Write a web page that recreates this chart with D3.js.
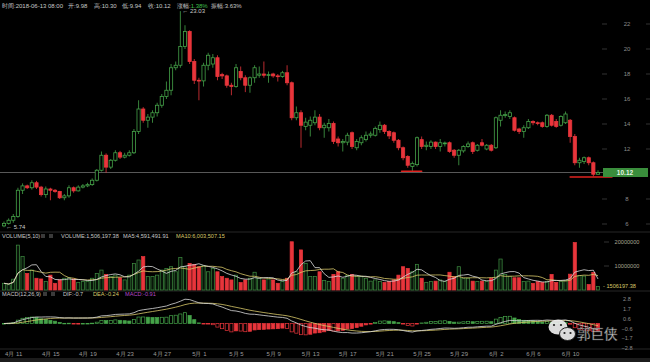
<!DOCTYPE html>
<html>
<head>
<meta charset="utf-8">
<script src="https://cdn.jsdelivr.net/npm/d3@7"></script>
<style>
  body { margin: 0; background: #000; }
  svg { display: block; font-family: "Liberation Sans", Arial, sans-serif; }
</style>
</head>
<body>
<div id="chart"></div>
<script>
// 12h candles, 2018-04-10 08:00 .. 2018-06-13 08:00
const START = '2018-04-10 08:00';
const END = '2018-06-13 08:00';

const open = [
  5.85, 6.05, 6.30, 6.60, 8.70, 9.05, 8.90, 9.30, 8.95, 8.35,
  8.80, 8.70, 8.60, 8.10, 8.25, 8.90, 8.65, 8.95, 9.05, 9.15,
  9.50, 10.30, 11.50, 10.55, 11.10, 11.70, 11.35, 11.50, 11.70, 13.40,
  15.20, 14.30, 14.55, 14.90, 15.50, 16.20, 16.70, 18.50, 18.70, 20.20,
  21.40, 19.00, 17.50, 17.45, 18.70, 18.80, 19.30, 17.95, 17.85, 17.10,
  17.00, 18.20, 17.70, 17.10, 17.70, 17.90, 18.00, 17.90, 18.00, 17.85,
  17.80, 18.10, 17.30, 14.50, 14.90, 13.80, 13.90, 14.10, 14.55, 13.70,
  13.70, 14.05, 12.80, 12.50, 12.55, 13.30, 12.10, 12.50, 12.75, 13.10,
  13.10, 13.55, 13.90, 13.40, 13.30, 12.70, 12.10, 11.40, 10.60, 10.75,
  12.75, 12.20, 12.20, 12.55, 12.20, 12.45, 12.50, 11.90, 11.50, 11.85,
  12.20, 12.50, 11.90, 12.50, 12.00, 12.30, 12.10, 14.30, 14.70, 14.60,
  14.50, 13.60, 13.40, 13.70, 14.20, 14.10, 14.10, 13.80, 14.70, 14.20,
  13.90, 14.10, 14.30, 13.00, 10.90, 11.00, 11.30, 10.90, 9.98
];
const high = [
  6.20, 6.45, 6.80, 8.90, 9.25, 9.15, 9.50, 9.45, 9.05, 9.00,
  8.90, 8.80, 8.65, 8.40, 9.10, 9.00, 9.10, 9.20, 9.30, 9.65,
  10.40, 11.80, 11.65, 11.20, 11.90, 11.85, 11.70, 11.90, 13.60, 15.90,
  15.35, 14.80, 15.10, 15.70, 16.40, 17.40, 18.80, 19.00, 23.03, 21.90,
  21.50, 19.20, 17.70, 18.90, 19.70, 19.60, 19.50, 18.10, 17.95, 17.30,
  18.80, 18.60, 17.90, 17.80, 18.70, 18.60, 19.00, 18.20, 18.10, 18.00,
  18.25, 18.70, 17.40, 15.40, 15.10, 14.50, 14.60, 15.10, 14.80, 14.10,
  14.40, 14.20, 13.00, 12.80, 13.30, 13.40, 12.80, 13.10, 13.40, 13.40,
  13.80, 14.20, 14.00, 13.50, 13.40, 12.80, 12.20, 11.50, 11.00, 13.00,
  13.00, 12.60, 12.70, 12.60, 12.80, 12.60, 12.60, 12.00, 12.00, 12.30,
  12.60, 12.60, 12.40, 12.80, 12.40, 12.40, 14.60, 15.10, 15.00, 15.10,
  14.60, 13.70, 13.90, 14.40, 14.30, 14.20, 14.20, 14.80, 14.80, 14.40,
  14.70, 15.00, 14.40, 13.20, 11.30, 11.40, 11.40, 11.00, 10.30
];
const low = [
  5.74, 5.95, 6.10, 6.50, 8.40, 8.80, 8.75, 8.80, 8.20, 8.10,
  7.90, 8.50, 8.00, 7.90, 8.10, 8.50, 8.60, 8.85, 8.95, 9.05,
  9.40, 10.20, 10.10, 10.40, 11.00, 11.20, 11.25, 11.40, 11.60, 13.20,
  14.10, 13.70, 14.10, 14.60, 15.30, 16.00, 16.30, 18.30, 18.50, 20.00,
  18.80, 17.20, 15.90, 17.00, 18.30, 18.50, 17.50, 17.60, 16.90, 16.30,
  16.90, 17.50, 16.55, 16.50, 17.30, 17.70, 17.70, 17.30, 17.70, 17.40,
  17.70, 17.10, 14.30, 14.30, 12.10, 13.50, 13.00, 13.90, 13.50, 12.90,
  13.40, 12.40, 12.20, 11.80, 12.30, 12.00, 11.90, 12.30, 12.60, 12.90,
  13.00, 13.30, 13.20, 12.80, 12.50, 11.90, 11.10, 10.50, 10.20, 10.60,
  12.00, 11.90, 12.00, 12.00, 11.80, 12.20, 11.70, 11.30, 10.70, 11.70,
  12.10, 11.60, 11.80, 12.20, 11.90, 11.80, 12.00, 13.80, 14.50, 14.40,
  13.40, 13.20, 12.90, 13.60, 13.90, 13.90, 13.70, 13.70, 13.80, 13.70,
  13.80, 14.00, 12.50, 10.70, 10.50, 10.80, 10.70, 9.80, 9.94
];
const close = [
  6.05, 6.30, 6.60, 8.70, 9.05, 8.90, 9.30, 8.95, 8.35, 8.80,
  8.70, 8.60, 8.10, 8.25, 8.90, 8.65, 8.95, 9.05, 9.15, 9.50,
  10.30, 11.50, 10.55, 11.10, 11.70, 11.35, 11.50, 11.70, 13.40, 15.20,
  14.30, 14.55, 14.90, 15.50, 16.20, 16.70, 18.50, 18.70, 20.20, 21.40,
  19.00, 17.50, 17.45, 18.70, 19.50, 19.30, 17.80, 17.85, 17.10, 17.00,
  18.50, 17.70, 17.10, 17.70, 18.50, 18.00, 17.90, 17.95, 17.85, 17.80,
  18.10, 17.30, 14.50, 14.90, 13.90, 14.15, 14.30, 14.55, 13.70, 13.90,
  14.05, 12.60, 12.50, 12.60, 13.10, 12.20, 12.60, 12.90, 13.10, 13.20,
  13.65, 13.90, 13.40, 13.05, 12.70, 12.10, 11.30, 10.70, 10.85, 12.90,
  12.20, 12.30, 12.55, 12.20, 12.50, 12.48, 11.80, 11.50, 11.90, 12.20,
  12.40, 11.80, 12.30, 12.30, 12.30, 11.90, 14.50, 14.70, 14.75, 14.90,
  13.50, 13.40, 13.70, 14.20, 14.10, 14.05, 13.80, 14.70, 13.90, 13.80,
  14.60, 14.80, 13.00, 10.90, 11.10, 11.30, 10.90, 9.98, 10.12
];
// volume in millions
const volumeM = [
  2.8, 2.2, 4.5, 18.7, 13.9, 6.9, 8.3, 4.9, 4.6, 3.5,
  6.2, 2.8, 4.2, 4.9, 5.1, 4.6, 3.2, 3.5, 3.5, 4.9,
  6.9, 8.3, 6.5, 5.6, 6.2, 5.1, 4.2, 6.2, 11.1, 12.5,
  13.9, 5.6, 5.6, 6.2, 8.3, 9.0, 9.7, 7.6, 13.5, 9.7,
  11.1, 10.7, 9.7, 10.1, 7.6, 9.0, 7.6, 5.6, 4.9, 4.2,
  6.2, 3.1, 4.2, 4.9, 7.4, 4.9, 4.2, 4.6, 4.2, 2.8,
  3.5, 4.9, 20.1, 7.6, 16.7, 11.1, 5.6, 5.6, 7.6, 4.0,
  3.5, 6.5, 7.6, 4.9, 6.0, 6.5, 5.6, 5.6, 4.9, 3.7,
  4.2, 3.5, 3.2, 3.5, 4.2, 6.2, 9.7, 9.0, 7.6, 10.7,
  4.9, 3.2, 3.5, 3.7, 4.2, 3.5, 7.4, 5.6, 9.7, 4.9,
  4.9, 3.7, 3.5, 3.7, 3.5, 4.9, 8.3, 12.9, 6.5, 5.6,
  5.1, 5.1, 3.5, 3.7, 2.8, 3.5, 3.2, 3.5, 6.5, 3.2,
  3.5, 4.0, 6.6, 19.78, 6.0, 5.8, 2.3, 7.35, 1.506197
];

// tick 10 sits under the last price tag, so it is left out
const priceTicks = [22, 20, 18, 16, 14, 12, 8, 6];
const volumeTicks = [20, 10];
const macdTicks = [2.8, 1.68, 0.56, -0.56, -1.68, -2.8];
const dateTicks = ['2018-04-11', '2018-04-15', '2018-04-19', '2018-04-23', '2018-04-27',
  '2018-05-01', '2018-05-05', '2018-05-09', '2018-05-13', '2018-05-17', '2018-05-21',
  '2018-05-25', '2018-05-29', '2018-06-02', '2018-06-06', '2018-06-10'];

const headerLabels = ['时间:', '开:', '高:', '低:', '收:', '涨幅:', '振幅:'];
const headerValues = ['2018-06-13 08:00', '9.98', '10.30', '9.94', '10.12', '1.38%', '3.63%'];
const volumeLegend = ['VOLUME:1,506,197.38', 'MA5:4,591,491.91', 'MA10:6,003,507.15'];
const macdLegend = ['DIF:-0.7', 'DEA:-0.24', 'MACD:-0.91'];
const lastVolumeLabel = '1506197.38';

// hand drawn support marks on the chart
const markFrom = ['2018-05-23 04:00', '2018-06-10 08:00'];
const markTo = ['2018-05-25 08:00', '2018-06-14 20:00'];
const markPrice = [10.22, 9.76];

const GREEN = '#45a349', RED = '#e8353b', YELLOW = '#d9c96a', WHITE = '#dcdcdc';
const W = 650, H = 362;

const parse = d3.timeParse('%Y-%m-%d %H:%M');
const parseDay = d3.timeParse('%Y-%m-%d');
const times = d3.timeHour.range(parse(START), d3.timeHour.offset(parse(END), 1), 12);

const candles = times.map((t, i) => ({
  t, o: open[i], h: high[i], l: low[i], c: close[i], v: volumeM[i], up: close[i] >= open[i]
}));

// moving averages of volume, MACD(12,26,9) of close
const movingAvg = (arr, n) => arr.map((v, i) => d3.mean(arr.slice(Math.max(0, i - n + 1), i + 1)));
const ema = (arr, n) => {
  const k = 2 / (n + 1), out = [];
  arr.forEach((v, i) => out.push(i ? out[i - 1] + k * (v - out[i - 1]) : v));
  return out;
};
const ma5 = movingAvg(volumeM, 5);
const ma10 = movingAvg(volumeM, 10);
const ema12 = ema(close, 12), ema26 = ema(close, 26);
const dif = ema12.map((v, i) => v - ema26[i]);
const dea = ema(dif, 9);
const hist = dif.map((v, i) => 2 * (v - dea[i]));

const svg = d3.select('#chart').append('svg')
  .attr('width', W).attr('height', H)
  .style('background', '#000');

const x = d3.scaleTime().domain([times[0], times[times.length - 1]]).range([4, 598]);
const y = d3.scaleLinear().domain([6, 22]).range([224, 24]);
const yv = d3.scaleLinear().domain([0, 20]).range([290, 242]);
const ym = d3.scaleLinear().domain([-2.8, 2.8]).range([348, 299]);
const bw = 3.2;

// header
const header = svg.append('text').attr('y', 8).attr('font-size', 6).attr('fill', '#c8c8c8');
const headerX = [2, 68, 94, 122, 148, 177, 211];
headerLabels.forEach((lab, i) => {
  header.append('tspan').attr('x', headerX[i]).text(lab);
  header.append('tspan').attr('fill', i === 5 ? '#3fbf4a' : '#c8c8c8').text(headerValues[i]);
});

// panel separators
[232, 291, 349].forEach(yy => {
  svg.append('line').attr('x1', 0).attr('x2', W).attr('y1', yy).attr('y2', yy)
    .attr('stroke', '#262626').attr('stroke-width', 1);
});
svg.append('rect').attr('x', 0).attr('y', 358).attr('width', W).attr('height', 4).attr('fill', '#1c1c1c');

// price axis
const priceAxis = svg.append('g').attr('transform', 'translate(627,0)')
  .call(d3.axisRight(y).tickValues(priceTicks).tickSize(0));
priceAxis.select('.domain').remove();
priceAxis.selectAll('text').attr('x', 0).attr('text-anchor', 'middle')
  .attr('fill', '#8a8a8a').attr('font-size', 6);
priceTicks.forEach(p => {
  svg.append('line').attr('x1', 602).attr('x2', 607).attr('y1', y(p)).attr('y2', y(p)).attr('stroke', '#333');
  svg.append('line').attr('x1', 646).attr('x2', 650).attr('y1', y(p)).attr('y2', y(p)).attr('stroke', '#333');
});

// last price line
const last = candles[candles.length - 1];
svg.append('line').attr('x1', 0).attr('x2', 603).attr('y1', y(last.c)).attr('y2', y(last.c))
  .attr('stroke', '#6e6e6e').attr('stroke-width', 0.8);

// candles
const cg = svg.append('g');
cg.selectAll('line.wick').data(candles).join('line')
  .attr('class', 'wick')
  .attr('x1', d => x(d.t)).attr('x2', d => x(d.t))
  .attr('y1', d => y(d.h)).attr('y2', d => y(d.l))
  .attr('stroke', d => d.up ? GREEN : RED).attr('stroke-width', 0.8);
cg.selectAll('rect.body').data(candles).join('rect')
  .attr('class', 'body')
  .attr('x', d => x(d.t) - bw / 2).attr('width', bw)
  .attr('y', d => y(Math.max(d.o, d.c)))
  .attr('height', d => Math.max(0.8, Math.abs(y(d.o) - y(d.c))))
  .attr('fill', d => d.up ? '#000' : RED)
  .attr('stroke', d => d.up ? GREEN : RED).attr('stroke-width', 0.8);

// high / low notes
const hiC = candles[d3.maxIndex(candles, d => d.h)];
const loC = candles[d3.minIndex(candles, d => d.l)];
svg.append('text').attr('x', x(hiC.t) + 2).attr('y', y(hiC.h)).attr('dy', '0.35em')
  .attr('font-size', 6).attr('fill', '#c8c8c8').text('← ' + d3.format('.2f')(hiC.h));
svg.append('text').attr('x', x(loC.t) + 2).attr('y', y(loC.l)).attr('dy', '0.35em')
  .attr('font-size', 6).attr('fill', '#c8c8c8').text('← ' + d3.format('.2f')(loC.l));

// red marks
markPrice.forEach((p, i) => {
  svg.append('line')
    .attr('x1', x(parse(markFrom[i]))).attr('x2', x(parse(markTo[i])))
    .attr('y1', y(p)).attr('y2', y(p))
    .attr('stroke', '#e0231f').attr('stroke-width', 1.6).attr('stroke-linecap', 'round');
});

// last price tag
svg.append('rect').attr('x', 603).attr('y', y(last.c) - 4.5).attr('width', 45).attr('height', 9).attr('fill', '#3a8e3c');
svg.append('text').attr('x', 625).attr('y', y(last.c)).attr('dy', '0.35em').attr('text-anchor', 'middle')
  .attr('font-size', 6.5).attr('font-weight', 'bold').attr('fill', '#e6f4e6').text(d3.format('.2f')(last.c));

// volume panel
const vl = svg.append('text').attr('y', 238).attr('font-size', 5.6).attr('fill', '#c8c8c8');
vl.append('tspan').attr('x', 2).text('VOLUME(5,10)');
vl.append('tspan').attr('x', 61).text(volumeLegend[0]);
vl.append('tspan').attr('x', 123).text(volumeLegend[1]);
vl.append('tspan').attr('x', 176).attr('fill', YELLOW).text(volumeLegend[2]);
[41, 49].forEach(bx => svg.append('rect').attr('x', bx).attr('y', 234).attr('width', 4).attr('height', 4).attr('fill', '#3a3a3a'));

svg.append('g').selectAll('rect').data(candles).join('rect')
  .attr('x', d => x(d.t) - bw / 2).attr('width', bw)
  .attr('y', d => yv(d.v)).attr('height', d => yv(0) - yv(d.v))
  .attr('fill', d => d.up ? 'rgba(69,163,73,0.12)' : RED)
  .attr('stroke', d => d.up ? '#3f8f42' : RED).attr('stroke-width', 0.7);

const vline = arr => d3.line().x((d, i) => x(times[i])).y(d => yv(d))(arr);
svg.append('path').attr('d', vline(ma10)).attr('fill', 'none').attr('stroke', YELLOW).attr('stroke-width', 0.8);
svg.append('path').attr('d', vline(ma5)).attr('fill', 'none').attr('stroke', WHITE).attr('stroke-width', 0.8);

const volAxis = svg.append('g').attr('transform', 'translate(627,0)')
  .call(d3.axisRight(yv).tickValues(volumeTicks).tickSize(0).tickFormat(d => d3.format('d')(d * 1e6)));
volAxis.select('.domain').remove();
volAxis.selectAll('text').attr('x', 0).attr('text-anchor', 'middle').attr('fill', '#a8a490').attr('font-size', 5.6);
volumeTicks.forEach(v => svg.append('line').attr('x1', 604).attr('x2', 609).attr('y1', yv(v)).attr('y2', yv(v)).attr('stroke', '#333'));
svg.append('text').attr('x', 603).attr('y', yv(last.v)).attr('dy', '0.35em').attr('font-size', 5.6)
  .attr('fill', YELLOW).text('- ' + lastVolumeLabel);

// MACD panel
const ml = svg.append('text').attr('y', 296).attr('font-size', 5.6).attr('fill', '#c8c8c8');
ml.append('tspan').attr('x', 2).text('MACD(12,26,9)');
ml.append('tspan').attr('x', 63).text(macdLegend[0]);
ml.append('tspan').attr('x', 93).attr('fill', YELLOW).text(macdLegend[1]);
ml.append('tspan').attr('x', 125).attr('fill', '#b548c8').text(macdLegend[2]);
[43, 51].forEach(bx => svg.append('rect').attr('x', bx).attr('y', 292).attr('width', 4).attr('height', 4).attr('fill', '#3a3a3a'));

svg.append('g').selectAll('rect').data(hist).join('rect')
  .attr('x', (d, i) => x(times[i]) - bw / 2).attr('width', bw)
  .attr('y', d => ym(Math.max(0, d))).attr('height', d => Math.max(0.6, Math.abs(ym(d) - ym(0))))
  .attr('fill', (d, i) => (i > 0 && d > hist[i - 1]) === (d >= 0) ? '#000' : (d >= 0 ? GREEN : RED))
  .attr('stroke', d => d >= 0 ? GREEN : RED).attr('stroke-width', 0.7);

const mline = arr => d3.line().x((d, i) => x(times[i])).y(d => ym(d))(arr);
svg.append('path').attr('d', mline(dea)).attr('fill', 'none').attr('stroke', YELLOW).attr('stroke-width', 0.8);
svg.append('path').attr('d', mline(dif)).attr('fill', 'none').attr('stroke', WHITE).attr('stroke-width', 0.8);

const macdAxis = svg.append('g').attr('transform', 'translate(627,0)')
  .call(d3.axisRight(ym).tickValues(macdTicks).tickSize(0));
macdAxis.select('.domain').remove();
macdAxis.selectAll('text').attr('x', 0).attr('text-anchor', 'middle').attr('fill', '#8a8a8a').attr('font-size', 5.6);

// date axis
const dateAxis = svg.append('g').attr('transform', 'translate(3,349)')
  .call(d3.axisBottom(x).tickValues(dateTicks.map(parseDay)).tickSize(0).tickPadding(2.5)
    .tickFormat(d3.timeFormat('%-m月 %-d')));
dateAxis.select('.domain').remove();
dateAxis.selectAll('text').attr('fill', '#9a9a9a').attr('font-size', 6);

// watermark
const wm = svg.append('g').attr('opacity', 0.92);
wm.append('ellipse').attr('cx', 558).attr('cy', 327).attr('rx', 9.5).attr('ry', 7.5)
  .attr('fill', '#eeeeee');
wm.append('ellipse').attr('cx', 567.5).attr('cy', 334).attr('rx', 8).attr('ry', 6.5)
  .attr('fill', '#eeeeee').attr('stroke', '#222').attr('stroke-width', 1);
[[554, 325], [561, 325], [564.5, 333], [570.5, 333]].forEach(([cx, cy]) =>
  wm.append('circle').attr('cx', cx).attr('cy', cy).attr('r', 1.1).attr('fill', '#222'));
wm.append('text').attr('x', 577).attr('y', 339).attr('font-size', 13.5)
  .attr('font-family', '"Noto Sans CJK SC", sans-serif')
  .attr('fill', '#f0f0f0').attr('stroke', '#444').attr('stroke-width', 0.4).text('郭巨侠');
</script>
</body>
</html>
